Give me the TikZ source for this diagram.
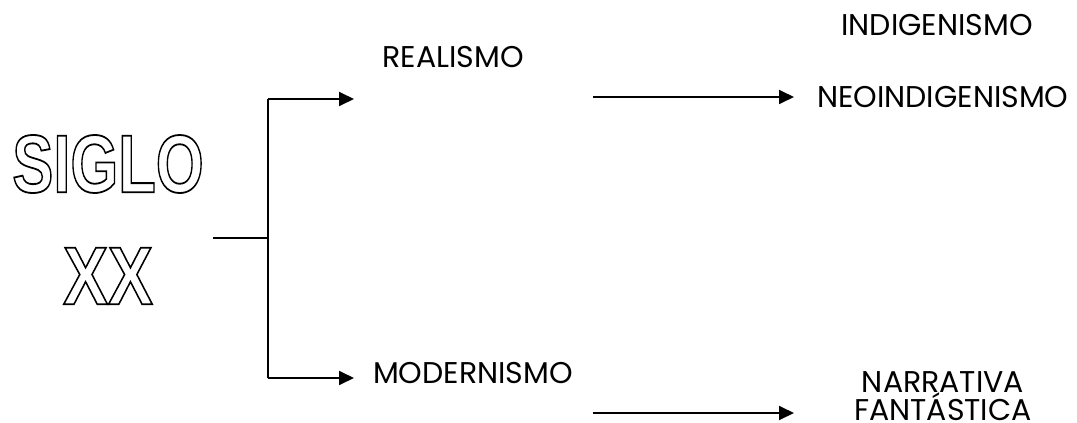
\documentclass[tikz,border=0pt]{standalone}
\usepackage{fontspec}
\setmainfont{Poppins}
\newfontfamily\boldsans{Liberation Sans Bold}
\usetikzlibrary{arrows.meta}
\newcommand{\outlinetext}[1]{\special{pdf:literal direct 1 Tr 1.8 w}#1\special{pdf:literal direct 0 Tr}}
\tikzset{
  lbl/.style={inner sep=0pt, font=\fontsize{30}{27}\selectfont, align=center},
  big/.style={inner sep=0pt, font=\boldsans\fontsize{82}{82}\selectfont},
  conn/.style={line width=1.8pt},
  arr/.style={line width=1.8pt, -{Triangle[length=15pt,width=14pt]}},
}
\begin{document}
\begin{tikzpicture}[x=1pt,y=-1pt]
\useasboundingbox (0,0) rectangle (1077,423);
\node[big] (siglo) at (108,164) {\scalebox{0.75}[1]{\outlinetext{SIGLO}}};
\node[big] (xx) at (108,276) {\scalebox{0.82}[1]{\outlinetext{XX}}};
\node[lbl] (realismo) at (453,57) {REALISMO};
\node[lbl] (modernismo) at (473,373) {MODERNISMO};
\node[lbl] (indig) at (937,25) {INDIGENISMO};
\node[lbl, anchor=west] (neo) at (817,97) {NEOINDIGENISMO};
\node[lbl, anchor=north] (narr) at (943,371) {NARRATIVA\\FANT\'ASTICA};
\coordinate (fork) at (268,238);
\coordinate (forktop) at (268,99);
\coordinate (forkbot) at (268,378);
\coordinate (rtip) at (354,99);
\coordinate (mtip) at (354,378);
\coordinate (nstart) at (593,97);
\coordinate (bstart) at (593,413);
\coordinate (btip) at (794,413);
\draw[conn] (213,238) -- (fork);
\draw[conn] (forkbot) -- (forktop);
\draw[arr] (forktop) -- (rtip);
\draw[arr] (forkbot) -- (mtip);
\draw[arr] (nstart) -- ([xshift=-23pt]neo.west);
\draw[arr] (bstart) -- (btip);
\end{tikzpicture}
\end{document}
